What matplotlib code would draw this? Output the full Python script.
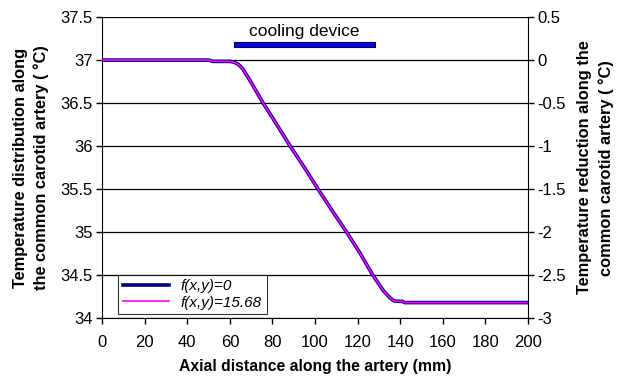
import matplotlib
matplotlib.use("Agg")
import matplotlib.pyplot as plt

plt.rcParams['font.family'] = ['Liberation Sans', 'DejaVu Sans']

# axial position along the artery (mm)
axial_mm = [0, 50, 52, 60, 62, 64, 66, 70, 75.6, 80, 88.3, 95, 101.4, 108,
            114.8, 121, 127.1, 132, 135, 137, 139, 141, 142, 200]
# temperature for f(x,y)=0
temp_f0 = [37.0, 37.0, 36.985, 36.985, 36.975, 36.95, 36.9, 36.74, 36.5, 36.33,
           36.0, 35.75, 35.5, 35.25, 35.0, 34.76, 34.5, 34.32, 34.24, 34.2,
           34.195, 34.195, 34.18, 34.18]
# temperature for f(x,y)=15.68
temp_f1568 = [37.0, 37.0, 36.985, 36.985, 36.975, 36.95, 36.9, 36.74, 36.5, 36.33,
              36.0, 35.75, 35.5, 35.25, 35.0, 34.76, 34.5, 34.32, 34.24, 34.2,
              34.195, 34.195, 34.18, 34.18]

device_start, device_end = 62, 128
device_level = 37.18

left_ticks = [34, 34.5, 35, 35.5, 36, 36.5, 37, 37.5]
right_ticks = [-3, -2.5, -2, -1.5, -1, -0.5, 0, 0.5]

fig = plt.figure(figsize=(6.19, 3.80), dpi=100)
ax = fig.add_axes([0.165, 0.163, 0.688, 0.792])

for t in left_ticks:
    ax.axhline(t, color='black', lw=0.9, zorder=1)

ax.plot(axial_mm, temp_f0, color='#000080', lw=2.6, label='f(x,y)=0', zorder=3)
ax.plot(axial_mm, temp_f1568, color='#FF00FF', lw=1.2, label='f(x,y)=15.68', zorder=4)

# cooling device marker
ax.fill_between([device_start, device_end], device_level - 0.025, device_level + 0.025,
                facecolor='#0000FF', edgecolor='#000030', lw=0.8, zorder=5)
ax.text((device_start + device_end) / 2, device_level + 0.06, 'cooling device',
        ha='center', va='bottom', fontsize=12.5)

ax.set_xlim(0, 200)
ax.set_ylim(34, 37.5)
ax.set_xticks(range(0, 201, 20))
ax.set_yticks(left_ticks)
ax.set_yticklabels([f'{t:g}' for t in left_ticks])
ax.tick_params(direction='out', length=4, width=1, labelsize=12, pad=3)
ax.tick_params(axis='x', pad=8)
ax.spines['top'].set_visible(False)
ax.spines['right'].set_visible(False)

ax.set_xlabel('Axial distance along the artery (mm)', fontsize=11.3, fontweight='bold', labelpad=7)
ax.set_ylabel('Temperature distribution along\nthe common carotid artery ( °C)',
              fontsize=11.8, fontweight='bold', labelpad=8, linespacing=1.45)

ax2 = ax.twinx()
ax2.set_ylim(-3, 0.5)
ax2.set_yticks(right_ticks)
ax2.set_yticklabels([f'{t:g}' for t in right_ticks])
ax2.tick_params(direction='out', length=4, width=1, labelsize=12, pad=3)
ax2.spines['top'].set_visible(False)
ax2.spines['left'].set_visible(False)
ax2.spines['bottom'].set_visible(False)
ax2.set_ylabel('Temperature reduction along the\ncommon carotid artery ( °C)',
               fontsize=11.8, fontweight='bold', labelpad=8, linespacing=1.45)

leg = ax.legend(loc='lower left', bbox_to_anchor=(0.038, 0.013),
                prop={'style': 'italic', 'size': 11}, frameon=True, fancybox=False,
                handlelength=3.0, borderpad=0.3, labelspacing=0.15, borderaxespad=0)
leg.get_frame().set_edgecolor('black')
leg.get_frame().set_linewidth(0.8)

fig.savefig('out.png', dpi=100)
